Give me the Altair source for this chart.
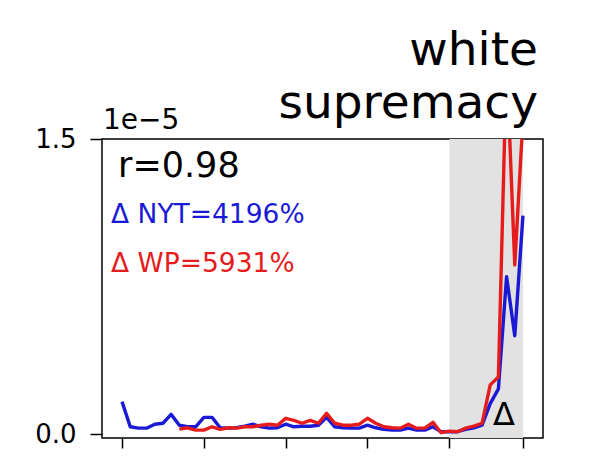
import altair as alt
import pandas as pd

# --- data (relative frequency, units of 1e-5) ---
years_nyt = list(range(1970, 2020))
nyt = [0.165, 0.037, 0.03, 0.03, 0.05, 0.055, 0.10, 0.045, 0.037, 0.037,
       0.085, 0.085, 0.032, 0.03, 0.032, 0.04, 0.05, 0.037, 0.03, 0.032,
       0.05, 0.037, 0.04, 0.04, 0.045, 0.085, 0.037, 0.032, 0.03, 0.03,
       0.045, 0.032, 0.024, 0.02, 0.02, 0.03, 0.02, 0.02, 0.037, 0.012,
       0.012, 0.012, 0.024, 0.032, 0.045, 0.155, 0.23, 0.80, 0.50, 1.11]
years_wp = list(range(1977, 2020))
wp = [0.025, 0.032, 0.02, 0.02, 0.037, 0.024, 0.032, 0.03, 0.037, 0.037,
      0.045, 0.05, 0.045, 0.08, 0.07, 0.055, 0.07, 0.055, 0.105, 0.055,
      0.045, 0.045, 0.05, 0.08, 0.055, 0.037, 0.032, 0.03, 0.05, 0.03,
      0.03, 0.06, 0.007, 0.015, 0.012, 0.03, 0.04, 0.055, 0.25, 0.29,
      1.9, 0.86, 1.6]
shade_start, shade_end = 2010, 2019
x_ticks = [1970, 1980, 1990, 2000, 2010, 2019]
y_ticks = [0.0, 1.5]
title_text = "white\nsupremacy"
r_text = "r=0.98"
nyt_text = "Δ NYT=4196%"
wp_text = "Δ WP=5931%"
offset_text = "1e\u22125"

BLUE = "#1a1ad6"
RED = "#e61c1c"
FONT = "DejaVu Sans"
W, H = 441, 299

df = pd.DataFrame(
    {"year": years_nyt + years_wp,
     "value": nyt + wp,
     "paper": ["NYT"] * len(nyt) + ["WP"] * len(wp)}
)
shade = pd.DataFrame({"start": [shade_start], "end": [shade_end]})

xscale = alt.Scale(domain=[1967.55, 2021.45], nice=False, zero=False)
yscale = alt.Scale(domain=[-0.02, 1.5], nice=False, zero=False)

xaxis = alt.Axis(values=x_ticks, labels=False, title=None, grid=False, domain=False,
                 tickSize=10, tickWidth=1.5, tickColor="black")
yaxis = alt.Axis(values=y_ticks, format=".1f", title=None, grid=False, domain=False,
                 tickSize=12, tickWidth=1.5, tickColor="black",
                 labelFontSize=26, labelFont=FONT, labelColor="black", labelPadding=14)

rect = alt.Chart(shade).mark_rect(color="#e2e2e2").encode(
    x=alt.X("start:Q", scale=xscale, axis=xaxis),
    x2="end:Q",
    y=alt.value(0),
    y2=alt.value(H),
)

lines = alt.Chart(df).mark_line(strokeWidth=3.4, clip=True, strokeJoin="round").encode(
    x=alt.X("year:Q", scale=xscale, axis=xaxis),
    y=alt.Y("value:Q", scale=yscale, axis=yaxis),
    color=alt.Color("paper:N", scale=alt.Scale(domain=["NYT", "WP"], range=[BLUE, RED]),
                    legend=None),
    order=alt.Order("year:Q"),
)

def label(text, x, y, size, color="black", align="left", **kw):
    return alt.Chart(pd.DataFrame({"t": [text]})).mark_text(
        font=FONT, fontSize=size, color=color, align=align, baseline="alphabetic", **kw
    ).encode(text="t:N", x=alt.value(x), y=alt.value(y))

texts = [
    label(title_text, 436, -74, 47, align="right", lineBreak="\n", lineHeight=53),
    label(offset_text, 1, -10, 28),
    label(r_text, 16, 38, 35),
    label(nyt_text, 9, 84, 26.5, color=BLUE),
    label(wp_text, 9, 133, 26.5, color=RED),
    label("Δ", 402, 286, 32, align="center"),
]

chart = alt.layer(rect, lines, *texts).properties(
    width=W, height=H,
    autosize=alt.AutoSizeParams(type="none"),
    padding={"left": 94, "top": 131, "right": 48, "bottom": 26},
    background="white",
).configure_view(stroke="black", strokeWidth=1.5)

chart.save("out.html", embed_options={"renderer": "svg", "actions": False})
